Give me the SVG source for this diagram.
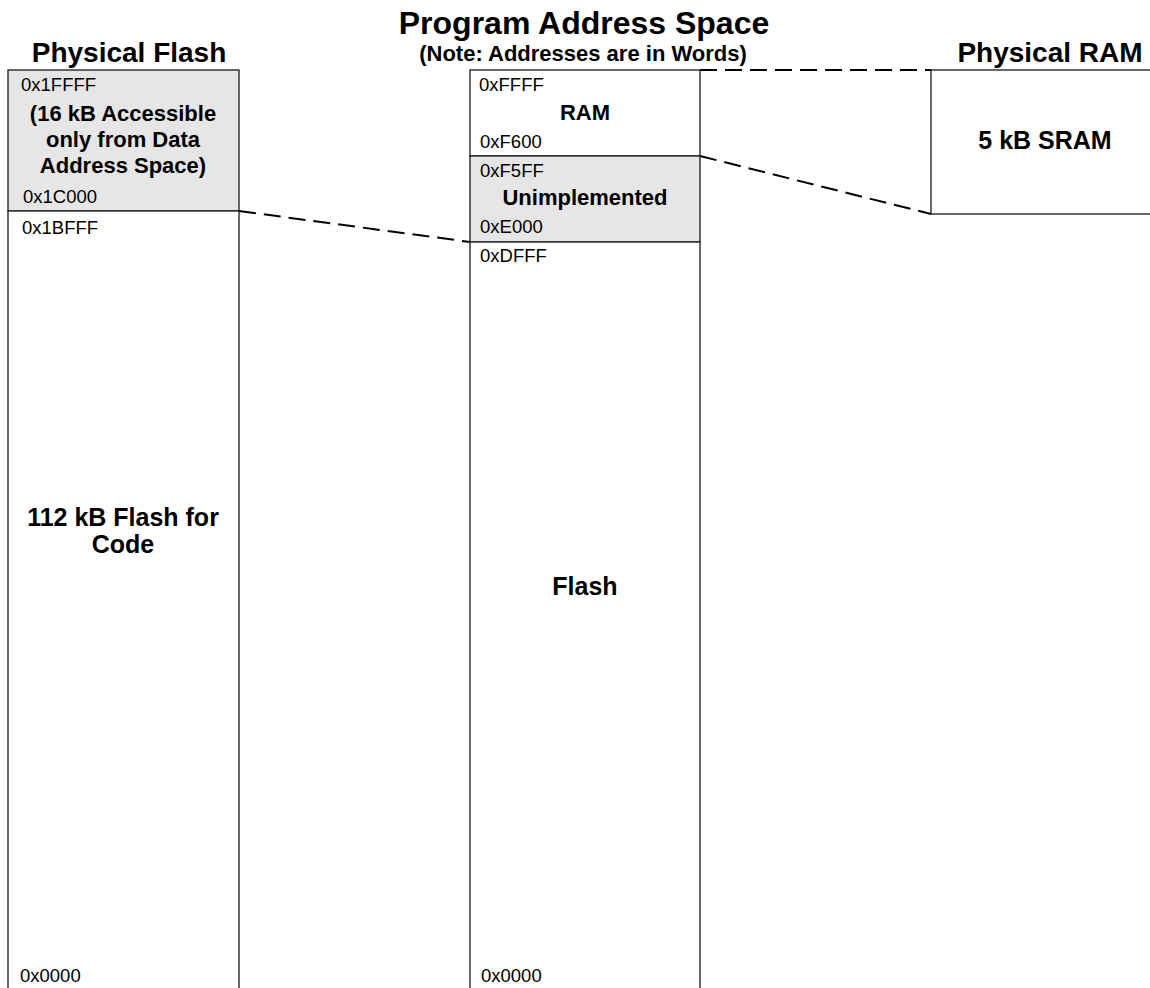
<svg xmlns="http://www.w3.org/2000/svg" width="1150" height="988" viewBox="0 0 1150 988">
<style>
.box{fill:#ffffff;stroke:#1a1a1a;stroke-width:1.3}
.grey{fill:#e6e6e6;stroke:#1a1a1a;stroke-width:1.3}
.title{font-family:"Liberation Sans",Arial,sans-serif;font-weight:bold;font-size:28px;fill:#000;text-anchor:middle}
.main{font-size:32px}
.note{font-size:22.5px}
.lbl{font-family:"Liberation Sans",Arial,sans-serif;font-weight:bold;font-size:22px;fill:#000;text-anchor:middle}
.big{font-family:"Liberation Sans",Arial,sans-serif;font-weight:bold;font-size:25px;fill:#000;text-anchor:middle}
.addr{font-family:"Liberation Sans",Arial,sans-serif;font-size:18.5px;fill:#000}
.dash{fill:none;stroke:#000;stroke-width:2;stroke-dasharray:17 8}
</style>
<rect width="1150" height="988" fill="#ffffff"/>
<g id="titles">
<text class="title main" x="584" y="34">Program Address Space</text>
<text class="title" x="129" y="62">Physical Flash</text>
<text class="title" x="1050" y="62">Physical RAM</text>
<text class="lbl note" x="583" y="61">(Note: Addresses are in Words)</text>
</g>
<g id="connectors">
<path class="dash" d="M239,211 L470,242"/>
<path class="dash" d="M700,156 L931,214"/>
<path class="dash" d="M700,70 L931,70"/>
</g>
<g id="flash-upper">
<rect class="grey" x="8" y="70" width="231" height="141"/>
<text class="addr" x="21" y="91">0x1FFFF</text>
<text class="lbl" x="123" y="121">(16 kB Accessible</text>
<text class="lbl" x="123" y="147">only from Data</text>
<text class="lbl" x="123" y="173">Address Space)</text>
<text class="addr" x="23" y="203">0x1C000</text>
</g>
<g id="flash-lower">
<rect class="box" x="8" y="211" width="231" height="800"/>
<text class="addr" x="22" y="234">0x1BFFF</text>
<text class="big" x="123" y="526">112 kB Flash for</text>
<text class="big" x="123" y="553">Code</text>
<text class="addr" x="20" y="982">0x0000</text>
</g>
<g id="prog-ram">
<rect class="box" x="470" y="70" width="230" height="86"/>
<text class="addr" x="479" y="91">0xFFFF</text>
<text class="lbl" x="585" y="120">RAM</text>
<text class="addr" x="480" y="148">0xF600</text>
</g>
<g id="prog-unimpl">
<rect class="grey" x="470" y="156" width="230" height="86"/>
<text class="addr" x="480" y="177">0xF5FF</text>
<text class="lbl" x="585" y="205">Unimplemented</text>
<text class="addr" x="480" y="233">0xE000</text>
</g>
<g id="prog-flash">
<rect class="box" x="470" y="242" width="230" height="800"/>
<text class="addr" x="480" y="262">0xDFFF</text>
<text class="big" x="585" y="595">Flash</text>
<text class="addr" x="481" y="982">0x0000</text>
</g>
<g id="phys-ram">
<rect class="box" x="931" y="70" width="260" height="144"/>
<text class="big" x="1045" y="149">5 kB SRAM</text>
</g>
</svg>
